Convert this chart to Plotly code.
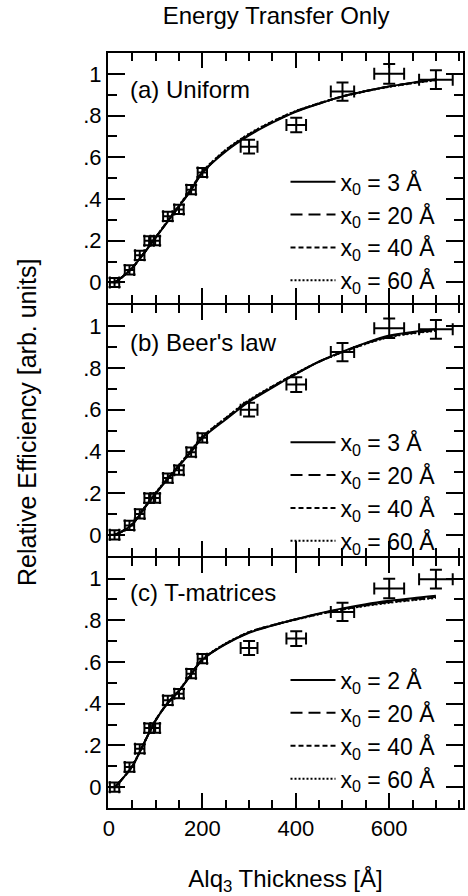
import plotly.graph_objects as go
from plotly.subplots import make_subplots

# ---------------- data ----------------
thickness = [12, 44, 66, 86, 99, 126, 150, 176, 200, 300, 401, 500, 600, 700]
thick_err = [10, 10, 10, 10, 10, 10, 10, 10, 10, 18, 21, 25, 32, 36]

eff_a = [0.0, 0.06, 0.13, 0.2, 0.2, 0.317, 0.35, 0.445, 0.527, 0.651, 0.755, 0.915, 1.0, 0.972]
eff_b = [0.0, 0.045, 0.10, 0.176, 0.176, 0.272, 0.31, 0.396, 0.465, 0.60, 0.72, 0.876, 0.99, 0.985]
eff_c = [0.0, 0.096, 0.184, 0.283, 0.283, 0.416, 0.448, 0.544, 0.616, 0.667, 0.712, 0.84, 0.952, 0.997]
eff_err = [0.022, 0.022, 0.022, 0.022, 0.022, 0.022, 0.022, 0.022, 0.022, 0.033, 0.035, 0.044, 0.047, 0.045]

fit_x = [12, 25, 50, 75, 100, 125, 150, 175, 200, 250, 300, 350, 400, 450, 500, 550, 600, 650, 700]

fit_a_1 = [0.0, 0.02, 0.07, 0.14, 0.215, 0.29, 0.364, 0.44, 0.525, 0.628, 0.705, 0.766, 0.818, 0.857, 0.892, 0.918, 0.94, 0.958, 0.974]
fit_a_2 = [0.0, 0.02, 0.07, 0.14, 0.215, 0.29, 0.365, 0.442, 0.527, 0.632, 0.709, 0.769, 0.82, 0.858, 0.892, 0.918, 0.94, 0.957, 0.972]
fit_a_3 = [0.0, 0.02, 0.07, 0.141, 0.216, 0.292, 0.367, 0.444, 0.529, 0.634, 0.711, 0.771, 0.821, 0.859, 0.892, 0.917, 0.939, 0.956, 0.971]
fit_a_4 = [0.0, 0.02, 0.071, 0.142, 0.217, 0.293, 0.369, 0.446, 0.531, 0.636, 0.713, 0.772, 0.822, 0.859, 0.892, 0.917, 0.938, 0.955, 0.97]

fit_b_1 = [0.0, 0.012, 0.05, 0.125, 0.198, 0.265, 0.33, 0.395, 0.464, 0.553, 0.638, 0.706, 0.77, 0.83, 0.878, 0.92, 0.955, 0.972, 0.985]
fit_b_2 = [0.0, 0.012, 0.05, 0.126, 0.199, 0.267, 0.332, 0.398, 0.467, 0.557, 0.642, 0.709, 0.772, 0.83, 0.877, 0.918, 0.952, 0.969, 0.982]
fit_b_3 = [0.0, 0.012, 0.051, 0.127, 0.2, 0.268, 0.334, 0.4, 0.469, 0.559, 0.644, 0.711, 0.773, 0.83, 0.876, 0.917, 0.95, 0.967, 0.98]
fit_b_4 = [0.0, 0.013, 0.052, 0.128, 0.202, 0.27, 0.336, 0.402, 0.471, 0.561, 0.646, 0.712, 0.774, 0.83, 0.875, 0.915, 0.948, 0.965, 0.978]

fit_c_1 = [0.0, 0.03, 0.10, 0.21, 0.32, 0.40, 0.46, 0.536, 0.61, 0.685, 0.74, 0.775, 0.805, 0.833, 0.857, 0.877, 0.893, 0.906, 0.917]
fit_c_2 = [0.0, 0.03, 0.10, 0.21, 0.32, 0.401, 0.462, 0.538, 0.612, 0.687, 0.742, 0.776, 0.805, 0.831, 0.854, 0.873, 0.888, 0.901, 0.912]
fit_c_3 = [0.0, 0.03, 0.10, 0.211, 0.321, 0.402, 0.463, 0.539, 0.613, 0.688, 0.743, 0.776, 0.804, 0.83, 0.852, 0.871, 0.886, 0.898, 0.909]
fit_c_4 = [0.0, 0.03, 0.101, 0.212, 0.322, 0.403, 0.464, 0.54, 0.614, 0.689, 0.743, 0.776, 0.803, 0.829, 0.851, 0.869, 0.884, 0.896, 0.907]

legend_a = ["x<sub>0</sub> = 3 Å", "x<sub>0</sub> = 20 Å", "x<sub>0</sub> = 40 Å", "x<sub>0</sub> = 60 Å"]
legend_b = ["x<sub>0</sub> = 3 Å", "x<sub>0</sub> = 20 Å", "x<sub>0</sub> = 40 Å", "x<sub>0</sub> = 60 Å"]
legend_c = ["x<sub>0</sub> = 2 Å", "x<sub>0</sub> = 20 Å", "x<sub>0</sub> = 40 Å", "x<sub>0</sub> = 60 Å"]
panel_labels = ["(a) Uniform", "(b) Beer's law", "(c) T-matrices"]

y_tickvals = [0, 0.2, 0.4, 0.6, 0.8, 1.0]
y_ticktext = ["0", ".2", ".4", ".6", ".8", "1"]
y_minor_ticks = [0.1, 0.3, 0.5, 0.7, 0.9]
x_tickvals = [0, 200, 400, 600]
x_ticktext = ["0", "200", "400", "600"]
x_minor_ticks = [50, 100, 150, 250, 300, 350, 450, 500, 550, 650, 700, 750]

# ---------------- figure ----------------
FONT = "Liberation Sans, Arial, sans-serif"
dashes = ["solid", "12px,6px", "5px,3px", "2px,2px"]
X_RANGE = [-2, 758]
Y_RANGE = [-0.1, 1.1]

fig = make_subplots(rows=3, cols=1, shared_xaxes=True, vertical_spacing=2 / 755)

panels = [
    (eff_a, [fit_a_1, fit_a_2, fit_a_3, fit_a_4], legend_a, "legend"),
    (eff_b, [fit_b_1, fit_b_2, fit_b_3, fit_b_4], legend_b, "legend2"),
    (eff_c, [fit_c_1, fit_c_2, fit_c_3, fit_c_4], legend_c, "legend3"),
]

for i, (eff, fits, names, leg) in enumerate(panels):
    row = i + 1
    for fit, name, dash in zip(fits, names, dashes):
        fig.add_trace(go.Scatter(
            x=fit_x, y=fit, mode="lines", name=name, legend=leg,
            line=dict(color="black", width=2, dash=dash, shape="spline", smoothing=0.8),
        ), row=row, col=1)
    fig.add_trace(go.Scatter(
        x=thickness, y=eff, mode="markers", showlegend=False,
        marker=dict(size=2, color="black"),
        error_x=dict(type="data", array=thick_err, color="black", thickness=2, width=6),
        error_y=dict(type="data", array=eff_err, color="black", thickness=2, width=6),
    ), row=row, col=1)

# no per-axis tickfont: tick labels take the global layout font
for r in range(1, 4):
    fig.update_yaxes(
        range=Y_RANGE, tickvals=y_tickvals, ticktext=y_ticktext,
        ticks="inside", ticklen=17, tickwidth=2, tickcolor="black",
        minor=dict(tickmode="array", tickvals=y_minor_ticks, ticks="inside", ticklen=9,
                   tickwidth=2, tickcolor="black", showgrid=False),
        showline=True, linewidth=2, linecolor="black", mirror="ticks",
        showgrid=False, zeroline=False, row=r, col=1)
    fig.update_xaxes(
        range=X_RANGE, tickvals=x_tickvals, ticktext=x_ticktext,
        ticks="inside", ticklen=15, tickwidth=2, tickcolor="black",
        minor=dict(tickmode="array", tickvals=x_minor_ticks, ticks="inside", ticklen=8,
                   tickwidth=2, tickcolor="black", showgrid=False),
        showline=True, linewidth=2, linecolor="black", mirror="ticks",
        showgrid=False, zeroline=False, row=r, col=1)

fig.update_xaxes(
    title=dict(text="Alq<sub>3</sub> Thickness [Å]", font=dict(family=FONT, size=24, color="black"), standoff=30),
    row=3, col=1)

label_y = [0.951, 0.617, 0.286]
for txt, yy in zip(panel_labels, label_y):
    fig.add_annotation(text=txt, xref="paper", yref="paper", x=0.056, y=yy,
                       xanchor="left", yanchor="middle", showarrow=False,
                       font=dict(family=FONT, size=24, color="black"))

fig.add_annotation(text="Relative Efficiency [arb. units]", xref="paper", yref="paper",
                   x=-0.228, y=0.51, textangle=-90, xanchor="center", yanchor="middle",
                   showarrow=False, font=dict(family=FONT, size=25, color="black"))

legend_style = dict(font=dict(family=FONT, size=23, color="black"), bgcolor="rgba(0,0,0,0)",
                    borderwidth=0, xanchor="left", yanchor="top", x=0.5, tracegroupgap=0,
                    itemwidth=45)

fig.update_layout(
    template="none",
    font=dict(family=FONT, size=22, color="black"),
    width=468, height=896,
    margin=dict(l=108, r=5, t=53, b=88),
    paper_bgcolor="white", plot_bgcolor="white",
    title=dict(text="Energy Transfer Only", x=0.59, xanchor="center", y=1 - 16 / 896, yanchor="middle",
               font=dict(family=FONT, size=24, color="black")),
    legend=dict(**legend_style, y=0.858),
    legend2=dict(**legend_style, y=0.513),
    legend3=dict(**legend_style, y=0.198),
)

fig.write_html("out.html")
